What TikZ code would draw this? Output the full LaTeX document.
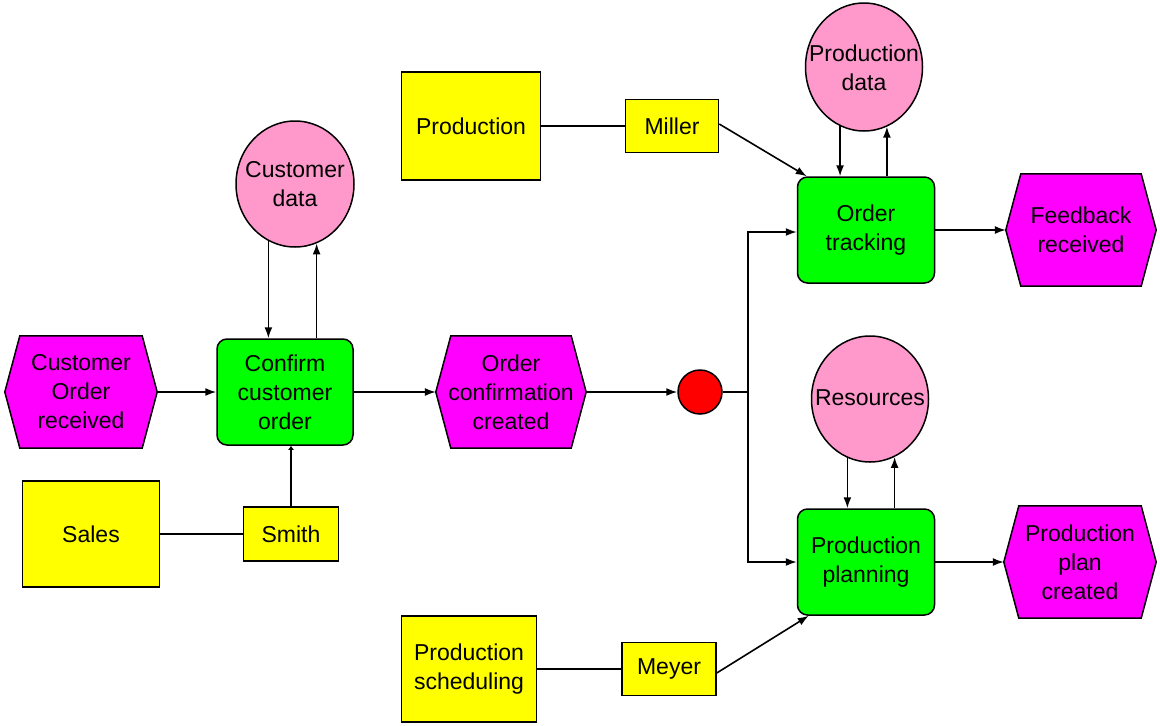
\documentclass[tikz,border=0pt]{standalone}
\usepackage{fontspec}
\setmainfont{Liberation Sans}
\usetikzlibrary{shapes.geometric,arrows.meta,backgrounds}
\definecolor{evmag}{HTML}{FF00FF}
\definecolor{fngreen}{HTML}{00FF00}
\definecolor{orgyel}{HTML}{FFFF00}
\definecolor{datapink}{HTML}{FF99CC}
\definecolor{junred}{HTML}{FF0000}
\tikzset{
  every node/.style={font=\fontsize{23}{29}\selectfont, align=center, inner sep=0pt},
  func/.style={draw, line width=1.5pt, fill=fngreen, rounded corners=10pt, minimum width=136pt, minimum height=106pt},
  orgbox/.style={draw, line width=1.5pt, fill=orgyel},
  datael/.style={draw, line width=1.5pt, fill=datapink, ellipse, minimum width=118pt, minimum height=126pt},
  evt/.style={minimum height=112pt},
  hexline/.style={draw, line width=1.5pt, fill=evmag},
  conn/.style={line width=1.6pt},
  arr/.style={line width=1.6pt, -{Latex[length=11pt,width=8pt]}},
}
\begin{document}
\begin{tikzpicture}[x=1pt,y=-1pt]
\useasboundingbox (0,0) rectangle (1160,726);
% events (hexagons)
\node[evt, minimum width=152pt] (h1) at (81,392) {Customer\\Order\\received};
\node[evt, minimum width=150pt] (h2) at (511,392) {Order\\confirmation\\created};
\node[evt, minimum width=150pt] (h3) at (1081,230) {Feedback\\received};
\node[evt, minimum width=152pt] (h4) at (1080,562) {Production\\plan\\created};
\begin{pgfonlayer}{background}
\foreach \n in {h1,h2,h3,h4}
  \draw[hexline] (\n.west) -- ([xshift=15pt]\n.north west) -- ([xshift=-15pt]\n.north east) -- (\n.east) -- ([xshift=-15pt]\n.south east) -- ([xshift=15pt]\n.south west) -- cycle;
\end{pgfonlayer}
% functions
\node[func] (conf) at (285,392) {Confirm\\customer\\order};
\node[func, minimum width=137pt] (ot) at (866,230) {Order\\tracking};
\node[func, minimum width=137pt] (pp) at (866,562) {Production\\planning};
% data
\node[datael] (cd) at (295,184) {};
\node at (295,184) {Customer\\data};
\node[datael, minimum width=117pt, minimum height=128pt] (pd) at (864,67) {};
\node at (864,68) {Production\\data};
\node[datael, minimum width=117pt] (rs) at (870,399) {};
\node at (870,398) {Resources};
% org units
\node[orgbox, minimum width=137pt, minimum height=106pt] (sales) at (91,534) {Sales};
\node[orgbox, minimum width=95pt, minimum height=54pt] (smith) at (291,534) {Smith};
\node[orgbox, minimum width=139pt, minimum height=108pt] (prod) at (471,126) {Production};
\node[orgbox, minimum width=93pt, minimum height=53pt] (miller) at (672,126) {Miller};
\node[orgbox, minimum width=135pt, minimum height=106pt] (psch) at (469,669) {Production\\scheduling};
\node[orgbox, minimum width=94pt, minimum height=53pt] (meyer) at (669,669) {Meyer};
% junction
\node[draw, line width=1.5pt, fill=junred, circle, minimum size=44pt] (jr) at (700,392) {};
\coordinate (j) at (748,392);
% connectors
\draw[arr] (h1.east) -- (conf.west);
\draw[arr] (conf.east) -- (h2.west);
\draw[arr] (h2.east) -- (jr.west);
\draw[conn] (jr.east) -- (j);
\draw[arr] (j) |- ([yshift=-2pt]ot.west);
\draw[arr] (j) |- (pp.west);
\draw[arr] (ot.east) -- (h3.west);
\draw[arr] (pp.east) -- (h4.west);
\draw[arr] (cd.245) -- (cd.245 |- conf.north);
\draw[arr] (cd.290 |- conf.north) -- (cd.290);
\draw[arr] (pd.248) -- (pd.248 |- ot.north);
\draw[arr] (pd.291 |- ot.north) -- (pd.291);
\draw[arr] (rs.249) -- (rs.249 |- pp.north);
\draw[arr] (rs.293 |- pp.north) -- (rs.293);
\draw[conn] (sales.east) -- (smith.west);
\draw[line width=1.6pt, -{Latex[length=4pt,width=6pt]}] (smith.north) -- (smith.north |- conf.south);
\draw[conn] (prod.east) -- (miller.west);
\draw[arr] ([yshift=2pt]miller.east) -- ([xshift=10pt]ot.north west);
\draw[conn] (psch.east |- meyer.west) -- (meyer.west);
\draw[arr] ([yshift=-4pt]meyer.east) -- ([xshift=12pt]pp.south west);
\end{tikzpicture}
\end{document}
